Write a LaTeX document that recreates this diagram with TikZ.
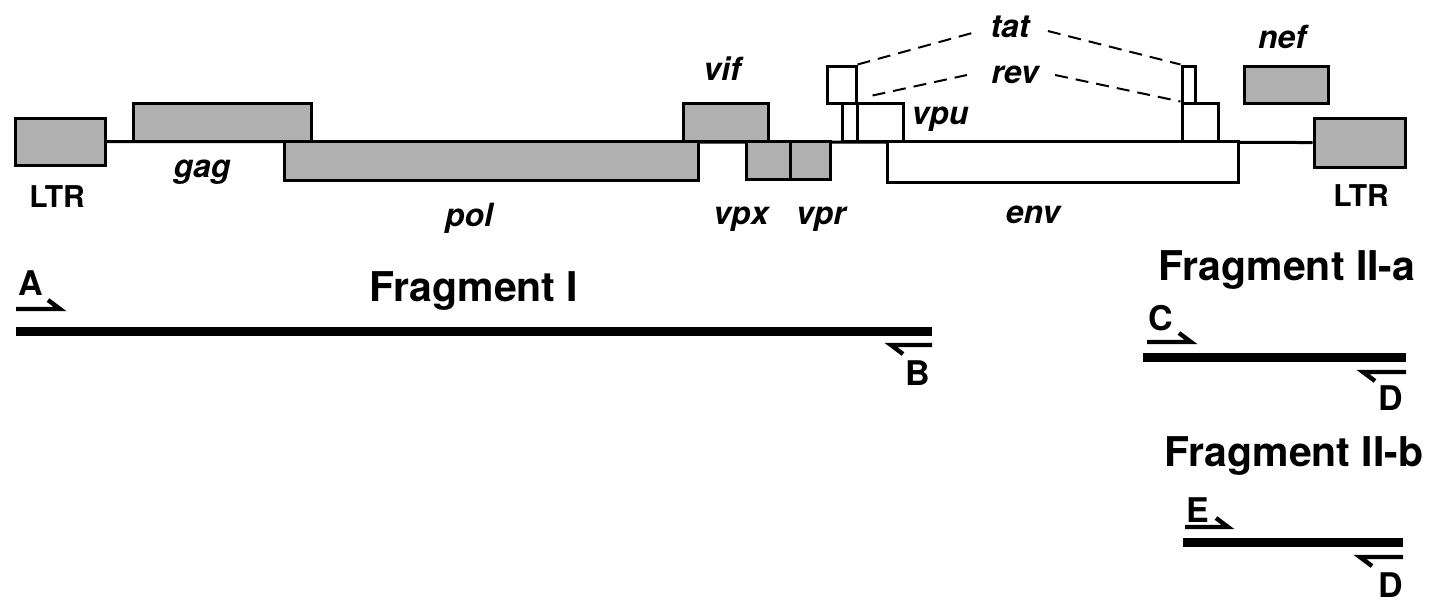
\documentclass[tikz,border=0pt]{standalone}
\usepackage{fontspec}
\setmainfont{TeX Gyre Heros}
\usetikzlibrary{fit}
\definecolor{boxgray}{gray}{0.69}
\begin{document}
\begin{tikzpicture}[x=0.5pt,y=-0.5pt,
  gbox/.style={draw, line width=1.5pt, fill=boxgray, inner sep=0pt},
  wbox/.style={draw, line width=1.5pt, fill=white, inner sep=0pt},
  gene/.style={inner sep=0pt, anchor=base, font=\fontsize{16}{16}\selectfont\bfseries\itshape},
  ltrlab/.style={inner sep=0pt, anchor=base, font=\fontsize{15}{15}\selectfont\bfseries},
  fraglab/.style={inner sep=0pt, anchor=base, font=\fontsize{20.5}{20.5}\selectfont\bfseries},
  primlab/.style={inner sep=0pt, anchor=base, font=\fontsize{17}{17}\selectfont\bfseries},
  splice/.style={dash pattern=on 6.5pt off 4pt, line width=1pt},
  backbone/.style={line width=1.5pt},
  fragline/.style={line width=4.5pt},
  primer/.style={line width=2.2pt, line join=miter}]
\useasboundingbox (0,0) rectangle (1433,602);
% boxes
\node[gbox, fit={(15,118)(105,165)}] (ltrL) {};
\node[gbox, fit={(1314,118)(1405,167)}] (ltrR) {};
\draw[backbone] (ltrL.east) -- (ltrR.west);
\node[gbox, fit={(133,103)(311,141)}] (gag) {};
\node[gbox, fit={(284,141)(698,180)}] (pol) {};
\node[gbox, fit={(683,103)(768,141)}] (vif) {};
\node[gbox, fit={(746,141)(790,179)}] (vpx) {};
\node[gbox, fit={(790,141)(830,179)}] (vpr) {};
\node[wbox, fit={(827,66)(856,103)}] (tatL) {};
\node[wbox, fit={(842,103)(857,141)}] (revL) {};
\node[wbox, fit={(857,103)(903,141)}] (vpu) {};
\node[wbox, fit={(887,141)(1238,182)}] (env) {};
\node[wbox, fit={(1182,66)(1195,103)}] (tatR) {};
\node[wbox, fit={(1182,103)(1218,141)}] (revR) {};
\node[gbox, fit={(1244,66)(1328,103)}] (nef) {};
% gene labels
\node[ltrlab] (lL) at (57,207) {LTR};
\node[ltrlab] (lR) at (1361,206) {LTR};
\node[gene] (lgag) at (202,177) {gag};
\node[gene] (lpol) at (469,226) {pol};
\node[gene] (lvpx) at (741,224) {vpx};
\node[gene] (lvpr) at (821,224) {vpr};
\node[gene] (lenv) at (1033,223) {env};
\node[gene] (lvif) at (722,80) {vif};
\node[gene] (lnef) at (1282,48) {nef};
\node[gene] (tat) at (1010,37) {tat};
\node[gene] (rev) at (1015,83) {rev};
\node[gene] (lvpu) at (940,124) {vpu};
% splice connectors
\draw[splice] (tatL.north east) -- ([xshift=-9pt,yshift=2pt]tat.base west);
\draw[splice] ([xshift=9pt,yshift=3pt]tat.base east) -- (tatR.north west);
\draw[splice] ([xshift=7pt,yshift=3pt]revL.north east) -- ([xshift=-12pt,yshift=4pt]rev.base west);
\draw[splice] ([xshift=8pt,yshift=4pt]rev.base east) -- (revR.north west);
% fragments
\node[fraglab] (f1) at (474,301) {Fragment I};
\node[fraglab] (f2a) at (1287,280) {Fragment II-a};
\node[fraglab] (f2b) at (1294,466) {Fragment II-b};
\coordinate (f1s) at (16,331);
\coordinate (f1e) at (932,331);
\coordinate (f2as) at (1143,357);
\coordinate (f2ae) at (1406,357);
\coordinate (f2bs) at (1183,542);
\coordinate (f2be) at (1403,542);
\draw[fragline] (f1s) -- (f1e);
\draw[fragline] (f2as) -- (f2ae);
\draw[fragline] (f2bs) -- (f2be);
% primers
\coordinate (pA1) at (16,309);   \coordinate (pA2) at (60,309);
\coordinate (pB1) at (932,345);  \coordinate (pB2) at (891,345);
\coordinate (pC1) at (1147,342); \coordinate (pC2) at (1191,342);
\coordinate (pD1) at (1406,372); \coordinate (pD2) at (1363,372);
\coordinate (pE1) at (1185,527); \coordinate (pE2) at (1228,527);
\coordinate (pF1) at (1403,557); \coordinate (pF2) at (1360,557);
\draw[primer] (pA1) -- (pA2) -- ++(-12,-9);
\draw[primer] (pB1) -- (pB2) -- ++(12,9);
\draw[primer] (pC1) -- (pC2) -- ++(-12,-9);
\draw[primer] (pD1) -- (pD2) -- ++(12,9);
\draw[primer] (pE1) -- (pE2) -- ++(-12,-9);
\draw[primer] (pF1) -- (pF2) -- ++(12,9);
\node[primlab] (lA) at (31,295) {A};
\node[primlab] (lB) at (918,385) {B};
\node[primlab] (lC) at (1161,330) {C};
\node[primlab] (lD1) at (1391,410) {D};
\node[primlab] (lE) at (1198,522) {E};
\node[primlab] (lD2) at (1391,597) {D};
\end{tikzpicture}
\end{document}
